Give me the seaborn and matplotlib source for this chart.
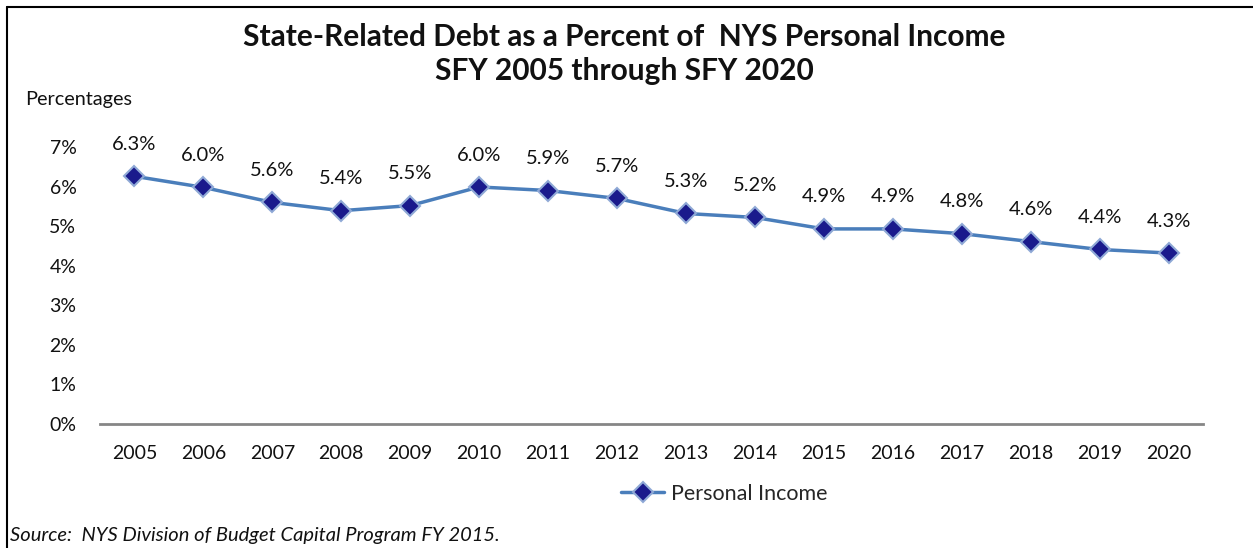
import matplotlib
matplotlib.use("Agg")
import matplotlib.pyplot as plt
import seaborn as sns
import pandas as pd
from matplotlib.lines import Line2D

years = ["2005", "2006", "2007", "2008", "2009", "2010", "2011", "2012",
         "2013", "2014", "2015", "2016", "2017", "2018", "2019", "2020"]
values = [6.26, 5.98, 5.60, 5.39, 5.52, 5.99, 5.90, 5.70,
          5.32, 5.22, 4.93, 4.93, 4.81, 4.61, 4.41, 4.32]
yticks = [0, 1, 2, 3, 4, 5, 6, 7]
title = "State-Related Debt as a Percent of  NYS Personal Income\nSFY 2005 through SFY 2020"
series_name = "Personal Income"
source = "Source:  NYS Division of Budget Capital Program FY 2015."

sns.set_theme(style="white")
plt.rcParams["font.family"] = ["Lato", "DejaVu Sans"]

df = pd.DataFrame({"year": years, "value": values})

fig = plt.figure(figsize=(12.53, 5.48), dpi=100)
ax = fig.add_axes([100 / 1253, 1 - 424 / 548, 1103 / 1253, (424 - 147) / 548])

line_color = "#4a7ebb"
face = "#1a1a8c"
edge = "#8fa9d6"
sns.pointplot(data=df, x="year", y="value", ax=ax, color=line_color,
              markers="D", linestyles="-", errorbar=None,
              markersize=10.5, markerfacecolor=face, markeredgecolor=edge,
              markeredgewidth=1.5, linewidth=2.5)

for i, v in enumerate(values):
    ax.annotate(f"{v:.1f}%", (i, v), xytext=(0, 23), textcoords="offset points",
                ha="center", va="center", fontsize=14.5, color="#111111")

ax.set_xlim(-0.5, 15.5)
ax.set_ylim(0, 7)
ax.set_yticks(yticks)
ax.set_yticklabels([f"{t}%" for t in yticks])
ax.set_xlabel("")
ax.set_ylabel("")
ax.tick_params(axis="both", length=0, labelsize=14, colors="#111111")
ax.tick_params(axis="y", pad=17)
ax.tick_params(axis="x", pad=15)
for s in ["top", "right", "left"]:
    ax.spines[s].set_visible(False)
ax.spines["bottom"].set_color("#868686")
ax.spines["bottom"].set_linewidth(2)
ax.grid(False)

fig.text(0.4985, 1 - 54 / 548, title, ha="center", va="center",
         fontsize=21.5, fontweight="bold", linespacing=1.3, color="#111111")
fig.text(25 / 1253, 1 - 99 / 548, "Percentages", ha="left", va="center",
         fontsize=14.3, color="#111111")
fig.text(10 / 1253, 1 - 536 / 548, source, ha="left", va="center",
         fontsize=14.5, style="italic", color="#111111")

handle = Line2D([], [], color=line_color, linewidth=2.5, marker="D",
                markersize=10.5, markerfacecolor=face, markeredgecolor=edge,
                markeredgewidth=1.5)
fig.legend([handle], [series_name], loc="center", bbox_to_anchor=(724 / 1253, 1 - 494 / 548),
           frameon=False, fontsize=15.5, handlelength=2.0, handletextpad=0.3)

# partial border (top and left)
fig.add_artist(Line2D([7 / 1253, 7 / 1253], [0, 1 - 7 / 548], color="black", linewidth=1.5,
                      transform=fig.transFigure))
fig.add_artist(Line2D([7 / 1253, 1], [1 - 7 / 548, 1 - 7 / 548], color="black", linewidth=1.5,
                      transform=fig.transFigure))

fig.savefig("out.png", dpi=100)
